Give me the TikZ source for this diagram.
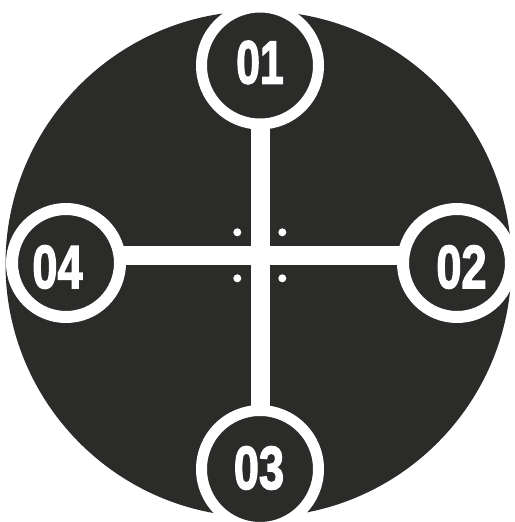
\documentclass[tikz,border=0pt]{standalone}
\usepackage{fontspec}
\setmainfont{Liberation Sans}[BoldFeatures={FakeBold=2.5}]
\usetikzlibrary{backgrounds}
\definecolor{dark}{RGB}{43,43,41}
\begin{document}
\begin{tikzpicture}[x=1pt,y=-1pt,
  bigdisc/.style={circle, fill=dark, minimum size=506pt, inner sep=0pt},
  bignode/.style={circle, fill=dark, draw=white, line width=11pt, minimum size=117pt, inner sep=0pt},
  sidenode/.style={circle, fill=dark, draw=white, line width=12pt, minimum size=108pt, inner sep=0pt},
  numtext/.style={text=white, font=\fontsize{61}{61}\selectfont\bfseries, inner sep=0pt},
  crossline/.style={white, line width=19pt},
  whitedot/.style={circle, fill=white, minimum size=8pt, inner sep=0pt}
]
\useasboundingbox (0,0) rectangle (514,522);
\clip (0,0) rectangle (514,522);
\node[bignode] (n1) at (260,65.5) {};
\node[sidenode] (n2) at (457,263) {};
\node[bignode] (n3) at (260,469) {};
\node[sidenode] (n4) at (66,263) {};
\coordinate (c) at (260,255);
\begin{scope}[on background layer]
  \node[bigdisc] (disc) at (258.5,264) {};
  \draw[crossline] (n1.center) -- (n3.center);
  \draw[crossline] (c -| n4.center) -- (c -| n2.center);
\end{scope}
\node[whitedot] (d1) at (237.3,232.3) {};
\node[whitedot] (d2) at (282.3,232.3) {};
\node[whitedot] (d3) at (237.3,278.3) {};
\node[whitedot] (d4) at (282.3,278.3) {};
\node[numtext] (t1) at (260,62.5) {\scalebox{0.7}[1]{01}};
\node[numtext] (t2) at (461.5,267) {\scalebox{0.74}[1]{02}};
\node[numtext] (t3) at (259,468) {\scalebox{0.74}[1]{03}};
\node[numtext] (t4) at (57.5,267) {\scalebox{0.74}[1]{04}};
\end{tikzpicture}
\end{document}
